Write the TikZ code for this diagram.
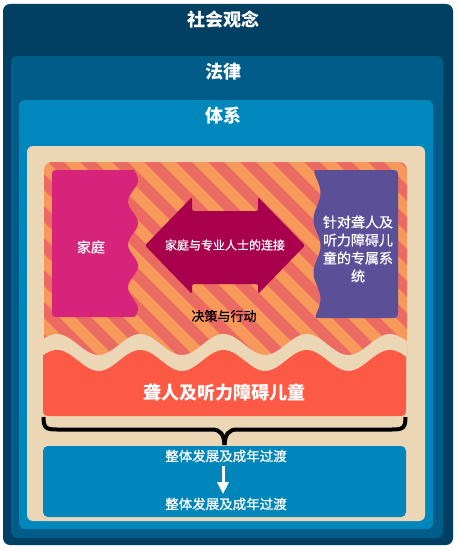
\documentclass[tikz,border=0pt]{standalone}
\usepackage{fontspec}
\setmainfont{Noto Sans CJK SC}
\newfontfamily\medfont{Noto Sans CJK SC}[FakeBold=0.8]
\usetikzlibrary{arrows.meta}
\definecolor{navy}{HTML}{013F63}
\definecolor{lawblue}{HTML}{005D8A}
\definecolor{sysblue}{HTML}{0088BC}
\definecolor{sand}{HTML}{EBD6B5}
\definecolor{stripeA}{HTML}{F7995B}
\definecolor{stripeB}{HTML}{EB6B62}
\definecolor{famPink}{HTML}{D6247B}
\definecolor{sysPurple}{HTML}{5B4F97}
\definecolor{linkarrow}{HTML}{A8004D}
\definecolor{childred}{HTML}{FC5A45}
\definecolor{devblue}{HTML}{0086BA}
\tikzset{
  layerTitle/.style = {text=white, font=\bfseries\fontsize{18}{20}\selectfont},
  boxText/.style = {text=white, font=\medfont\fontsize{14}{18}\selectfont, align=center},
  devText/.style = {text=white, font=\medfont\fontsize{13.5}{16}\selectfont},
  wave/.style = {domain=43:407, samples=120, smooth}
         }

\begin{document}
\begin{tikzpicture}[x=1pt, y=-1pt]
    \useasboundingbox (0,0) rectangle (458,551);
    \fill[white] (0,0) rectangle (458,551);
    % Nested layers
    \fill[navy, rounded corners=7] (3,4) rectangle (453,545);
    \fill[lawblue, rounded corners=6] (11,56) rectangle (443,538);
    \fill[sysblue, rounded corners=6] (19,100) rectangle (433,529);
    \fill[sand, rounded corners=6] (27,146) rectangle (425,521);
    % Layer titles
    \node[layerTitle] (society) at (223,20) {社会观念};
    \node[layerTitle] (law) at (223,72) {法律};
    \node[layerTitle] (system) at (223,116) {体系};
    % Striped background of decisions and actions
    \begin{scope}
      \clip[rounded corners=8] (44,162) rectangle (407,385);
      \fill[stripeA] (44,162) rectangle (407,385);
      \foreach \s in {-8,...,12}
      \draw[stripeB, line width=11.3pt] (44+\s*32,150) -- ++(260,260);
    \end{scope}
    % Sand wave over the stripes
    \fill[sand] plot[wave] (\x,{344.5-10.5*cos((\x-57)*4.3243)})
      -- (407,390) -- (43,390) -- cycle;
    % Family box with wavy right side
    \fill[famPink] (60,170) -- (130,170) .. controls (135,170) .. (135,172)
      -- plot[domain=172:315, samples=60, smooth] ({133+5*cos((\x-180)*8.3721)}, \x)
      .. controls (135,317) .. (130,317) -- (60,317) .. controls (52,317) .. (52,309)
      -- (52,178) .. controls (52,170) .. (60,170) -- cycle;
    \node[boxText] (family) at (91,247) {家庭};
    % Dedicated system box with wavy left side
    \fill[sysPurple] (390,170) .. controls (398,170) .. (398,178) -- (398,310)
      .. controls (398,318) .. (390,318) -- (321,318) .. controls (315.5,318) .. (315.5,316)
      -- plot[domain=316:172, samples=60, smooth] ({317+3.5*cos((\x-193)*6.7925)}, \x)
      .. controls (314.2,170) .. (320,170) -- cycle;
    \node[boxText] (dedicated) at (358,249) {针对聋人及\\听力障碍儿\\童的专属系\\统};
    % Double arrow between family and professionals
    \fill[linkarrow, rounded corners=1.5] (145,245.5) -- (192,197) -- (192,211)
      -- (258,211) -- (258,197) -- (305,245.5) -- (258,294) -- (258,284)
      -- (192,284) -- (192,294) -- cycle;
    \node[text=white, font=\medfont\fontsize{12}{14}\selectfont] (link) at (225,245) {家庭与专业人士的连接};
    \node[font=\medfont\fontsize{13}{15}\selectfont] (action) at (224,316) {决策与行动};
    % Children band with wavy top
    \fill[childred] plot[domain=43:406, samples=120, smooth] (\x,{360.5-10.5*cos((\x-57)*4.3243)})
      -- (406,406) .. controls (406,416) .. (396,416) -- (53,416)
      .. controls (43,416) .. (43,406) -- cycle;
    \node[layerTitle] (children) at (224,393) {聋人及听力障碍儿童};
    % Brace
    \draw[black, line width=4pt] (43.5,417) .. controls (43.5,428) and (46,429.5) .. (57,429.5)
      -- (212,429.5) .. controls (220,429.5) and (224,434) .. (224.5,445);
    \draw[black, line width=4pt] (405.5,417) .. controls (405.5,428) and (403,429.5) .. (392,429.5)
      -- (237,429.5) .. controls (229,429.5) and (225,434) .. (224.5,445);
    % Development box
    \fill[devblue, rounded corners=5] (43,446) rectangle (406,517);
    \node[devText] (devA) at (226,456) {整体发展及成年过渡};
    \node[devText] (devB) at (226,504) {整体发展及成年过渡};
    \draw[white, line width=3pt, -{Triangle[width=11pt,length=12pt]}]
      ([xshift=-3pt]devA.south) -- ([xshift=-3pt]devB.north);
  \end{tikzpicture}
\end{document}
